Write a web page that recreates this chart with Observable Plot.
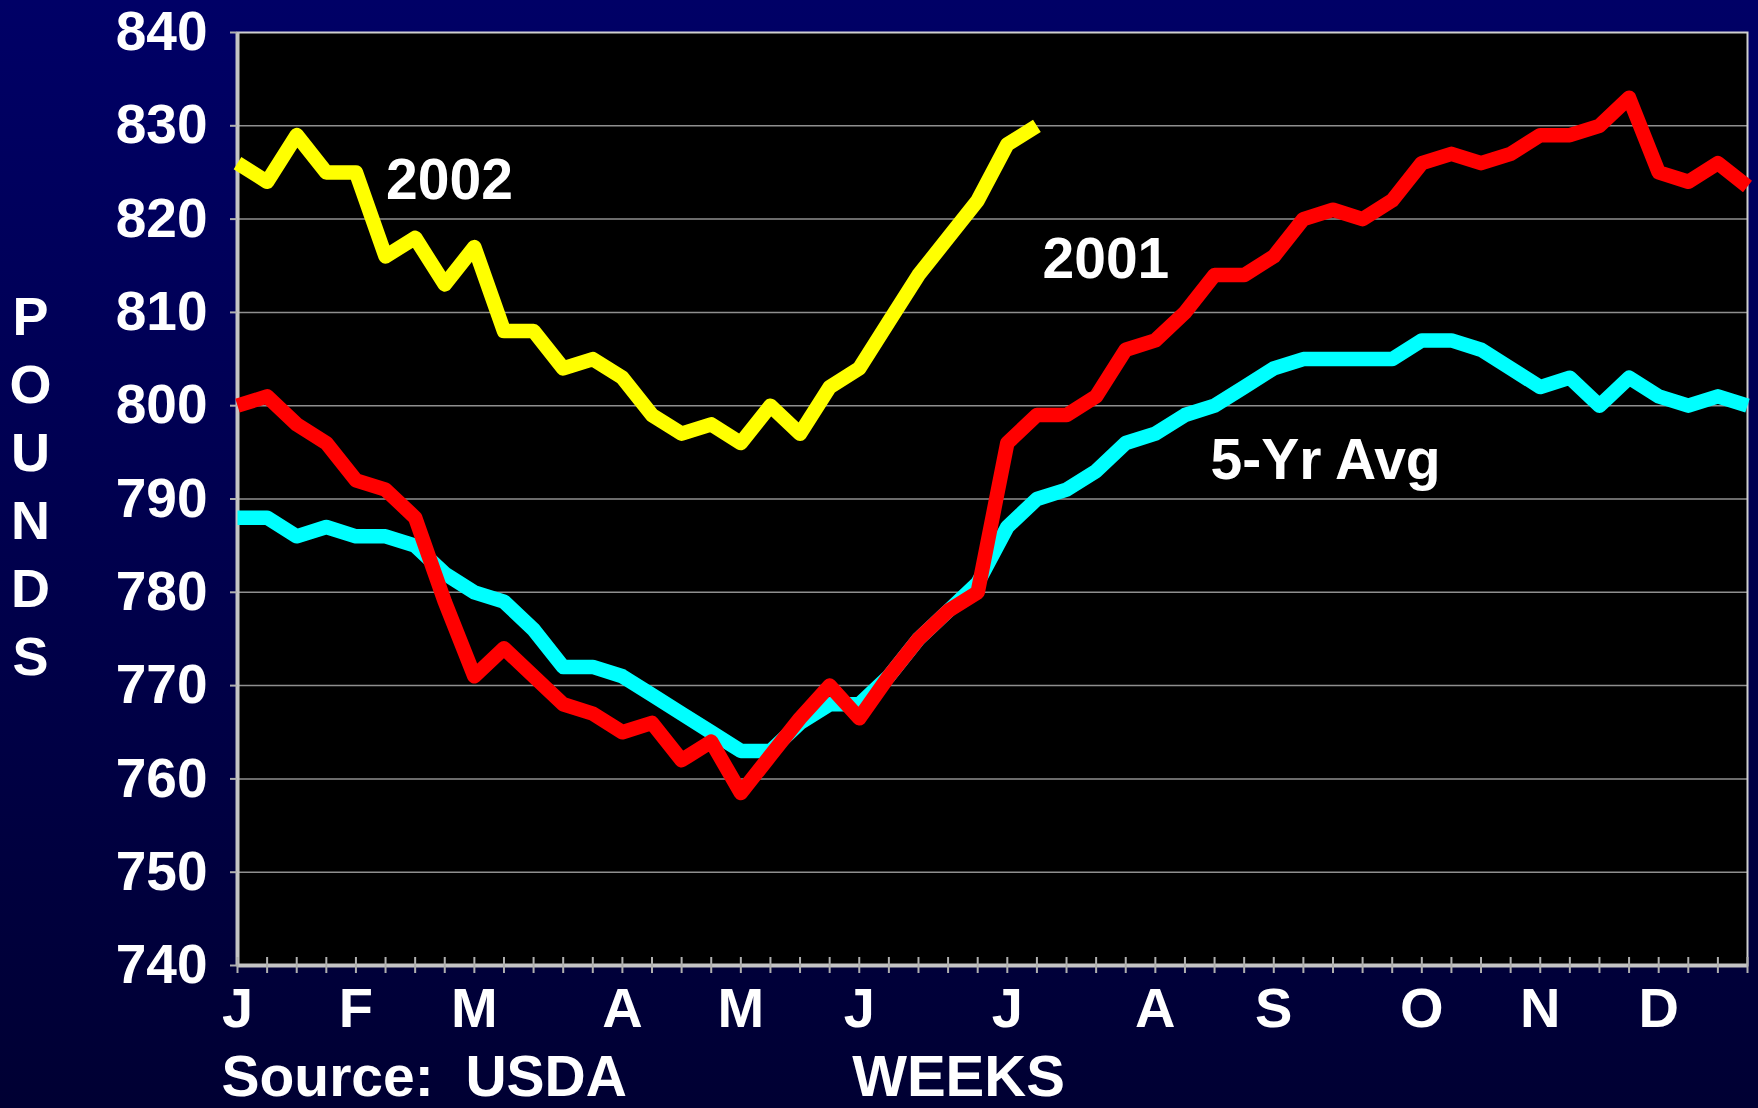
<!DOCTYPE html>
<html>
<head>
<meta charset="utf-8">
<script src="https://cdn.jsdelivr.net/npm/d3@7"></script>
<script src="https://cdn.jsdelivr.net/npm/@observablehq/plot@0.6"></script>
<style>
  html, body { margin: 0; padding: 0; }
  body {
    width: 1758px; height: 1108px; overflow: hidden;
    background: linear-gradient(to bottom, #000066 0%, #000048 60%, #000033 100%);
  }
  #chart svg { display: block; }
</style>
</head>
<body>
<div id="chart"></div>
<script>
// ---- data (weekly average steer weights, pounds) ----
const monthLabels = ["J", "F", "M", "A", "M", "J", "J", "A", "S", "O", "N", "D"];
const monthWeeks  = [0, 4, 8, 13, 17, 21, 26, 31, 35, 40, 44, 48];
const yTicks = [740, 750, 760, 770, 780, 790, 800, 810, 820, 830, 840];

const avg5yr = [788, 788, 786, 787, 786, 786, 785, 782, 780, 779,
                776, 772, 772, 771, 769, 767, 765, 763, 763, 766,
                768, 768, 771, 775, 778, 781, 787, 790, 791, 793,
                796, 797, 799, 800, 802, 804, 805, 805, 805, 805,
                807, 807, 806, 804, 802, 803, 800, 803, 801, 800,
                801, 800];
const y2001 = [800, 801, 798, 796, 792, 791, 788, 779, 771, 774,
               771, 768, 767, 765, 766, 762, 764, 758.5, 762.5, 766.5,
               770, 766.5, 771, 775, 778, 780, 796, 799, 799, 801,
               806, 807, 810, 814, 814, 816, 820, 821, 820, 822,
               826, 827, 826, 827, 829, 829, 830, 833, 825, 824,
               826, 823.5];
const y2002 = [826, 824, 829, 825, 825, 816, 818, 813, 817, 808,
               808, 804, 805, 803, 799, 797, 798, 796, 800, 797,
               802, 804, 809, 814, 818, 822, 828, 830];

const seriesNames  = ["5-Yr Avg", "2001", "2002"];
const seriesColors = ["#00FFFF", "#FF0000", "#FFFF00"];

// annotation anchors in data space (week index, pounds)
const annoText   = ["2002", "2001", "5-Yr Avg"];
const annoWeek   = [7.16, 29.33, 36.75];
const annoPounds = [822.2, 813.7, 792.1];

// ---- build tables ----
const weeks = d3.range(52);
const rows = [];
[avg5yr, y2001, y2002].forEach((arr, s) => {
  arr.forEach((v, i) => rows.push({series: seriesNames[s], week: i, pounds: v}));
});
const annotations = annoText.map((t, i) => ({label: t, week: annoWeek[i], pounds: annoPounds[i]}));
const monthMap = new Map(monthWeeks.map((w, i) => [w, monthLabels[i]]));

const FONT = "'Liberation Sans', Arial, Helvetica, sans-serif";

const chart = Plot.plot({
  width: 1758,
  height: 1108,
  marginLeft: 237,
  marginRight: 11,
  marginTop: 32,
  marginBottom: 143,
  style: {background: "transparent", fontFamily: FONT, fontWeight: "bold", color: "white"},
  x: {domain: [0, 51]},
  y: {domain: [740, 840]},
  color: {domain: seriesNames, range: seriesColors},
  marks: [
    Plot.frame({fill: "black"}),
    Plot.gridY(yTicks.slice(1, -1), {stroke: "#8f8f8f", strokeOpacity: 1, strokeWidth: 1.5}),
    Plot.frame({stroke: "#cfcfcf", strokeWidth: 2}),
    Plot.ruleX([0], {stroke: "#c4c4c4", strokeWidth: 4}),
    Plot.ruleY([740], {stroke: "#c4c4c4", strokeWidth: 4}),
    Plot.axisY({ticks: yTicks, tickSize: 7, tickPadding: 23, fontSize: 55, fontWeight: "bold",
                stroke: "#b0b0b0", strokeWidth: 2, fill: "white", label: null}),
    Plot.axisX({ticks: weeks, tickSize: 16, dy: -8, tickFormat: () => "",
                stroke: "#b0b0b0", strokeWidth: 2, label: null}),
    Plot.axisX({ticks: monthWeeks, tickSize: 0, tickPadding: 22, tickFormat: d => monthMap.get(d),
                fontSize: 56, fontWeight: "bold", fill: "white", label: null}),
    Plot.lineY(rows, {x: "week", y: "pounds", z: "series", stroke: "series",
                      strokeWidth: 14.5, strokeLinejoin: "round", strokeLinecap: "butt"}),
    Plot.text(annotations, {x: "week", y: "pounds", text: "label", textAnchor: "middle",
                            lineAnchor: "bottom", fontSize: 57, fontWeight: "bold", fill: "white"}),
    Plot.text(["Source:\u00A0\u00A0USDA"], {frameAnchor: "bottom-left", dx: -16, dy: 130,
                            textAnchor: "start", lineAnchor: "bottom", fontSize: 57, fontWeight: "bold", fill: "white"}),
    Plot.text(["WEEKS"], {frameAnchor: "bottom", dx: -34, dy: 130,
                            textAnchor: "middle", lineAnchor: "bottom", fontSize: 58, fontWeight: "bold", fill: "white"}),
    Plot.text(["P\nO\nU\nN\nD\nS"], {frameAnchor: "left", dx: -207, dy: -16, textAnchor: "middle",
                            lineAnchor: "middle", lineHeight: 1.26, fontSize: 54, fontWeight: "bold", fill: "white"})
  ]
});
document.getElementById("chart").appendChild(chart);
</script>
</body>
</html>
